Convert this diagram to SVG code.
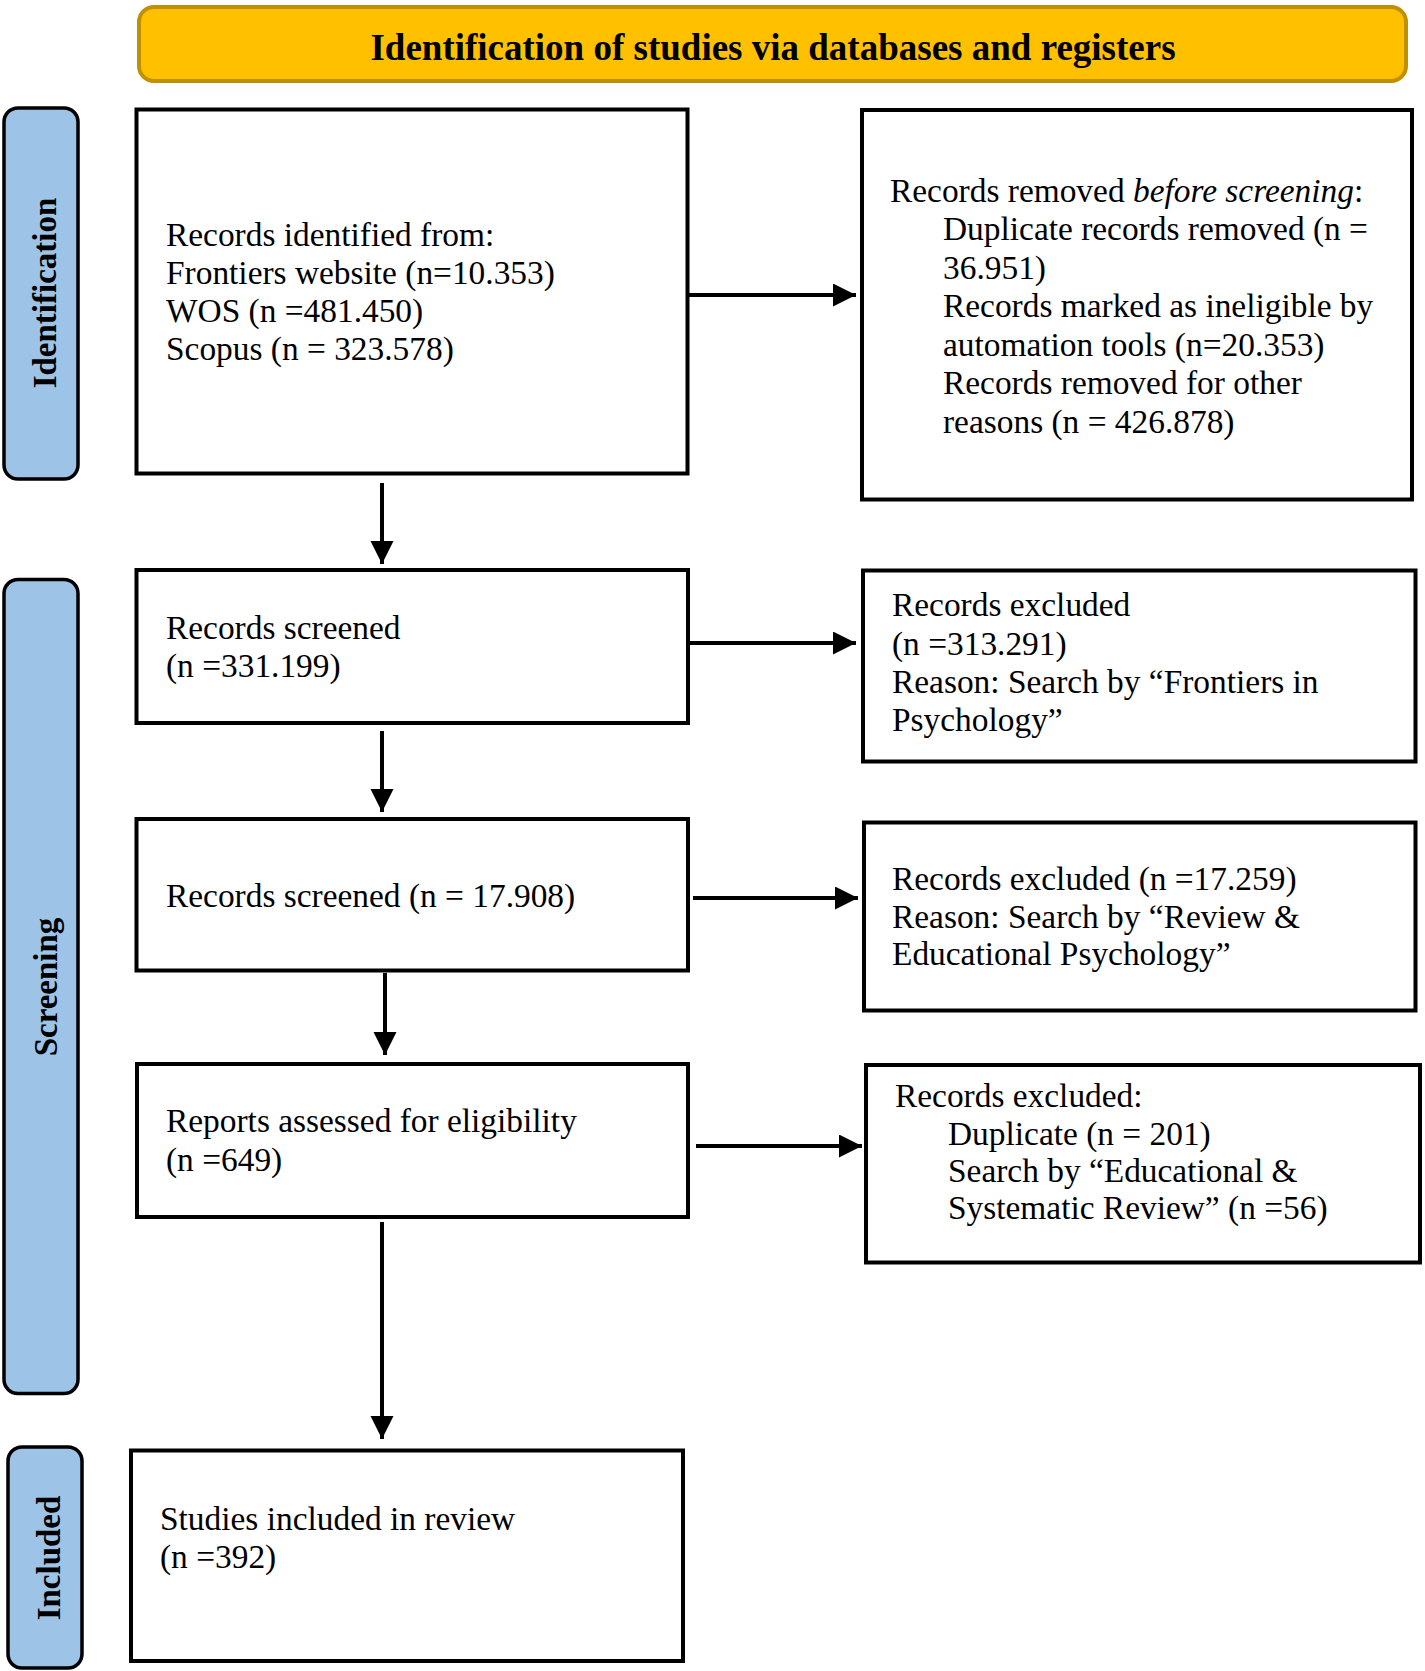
<svg xmlns="http://www.w3.org/2000/svg" width="1425" height="1671" viewBox="0 0 1425 1671">
<style>
.t{font-family:"Liberation Serif","Times New Roman",serif;font-size:33.4px;fill:#000}
.h{font-family:"Liberation Serif","Times New Roman",serif;font-size:37px;font-weight:bold;fill:#000}
.s{font-family:"Liberation Serif","Times New Roman",serif;font-size:33px;font-weight:bold;fill:#000}
.box{fill:#fff;stroke:#000;stroke-width:4}
.side{fill:#9DC3E6;stroke:#000;stroke-width:3.5}
.con{stroke:#000;stroke-width:4;fill:none}
</style>
<defs>
<marker id="ah" markerUnits="userSpaceOnUse" markerWidth="24" markerHeight="24" refX="23" refY="11.5" orient="auto">
<path d="M0,0 L23,11.5 L0,23 Z" fill="#000"/>
</marker>
</defs>
<rect width="1425" height="1671" fill="#fff"/>

<g id="header">
<rect x="139" y="7" width="1267" height="74" rx="15" fill="#FFC000" stroke="#BF9000" stroke-width="4"/>
<text class="h" x="773" y="60" text-anchor="middle">Identification of studies via databases and registers</text>
</g>

<g id="side-identification">
<rect class="side" x="4" y="108" width="74" height="371" rx="14"/>
<text class="s" transform="translate(56,293) rotate(-90)" text-anchor="middle">Identification</text>
</g>
<g id="side-screening">
<rect class="side" x="4" y="579.5" width="74" height="814" rx="14"/>
<text class="s" transform="translate(57,987) rotate(-90)" text-anchor="middle">Screening</text>
</g>
<g id="side-included">
<rect class="side" x="8" y="1447" width="74" height="221" rx="14"/>
<text class="s" transform="translate(60,1558) rotate(-90)" text-anchor="middle">Included</text>
</g>

<g id="n-identified">
<rect class="box" x="136.5" y="109.5" width="551" height="364"/>
<text class="t" x="166" y="246">Records identified from:</text>
<text class="t" x="166" y="284">Frontiers website (n=10.353)</text>
<text class="t" x="166" y="322">WOS (n =481.450)</text>
<text class="t" x="166" y="360">Scopus (n = 323.578)</text>
</g>

<g id="n-removed">
<rect class="box" x="862" y="110" width="550" height="389.5"/>
<text class="t" x="890" y="202">Records removed <tspan font-style="italic">before screening</tspan>:</text>
<text class="t" x="943" y="240">Duplicate records removed (n =</text>
<text class="t" x="943" y="279">36.951)</text>
<text class="t" x="943" y="317">Records marked as ineligible by</text>
<text class="t" x="943" y="356">automation tools (n=20.353)</text>
<text class="t" x="943" y="394">Records removed for other</text>
<text class="t" x="943" y="433">reasons (n = 426.878)</text>
</g>

<g id="n-screened1">
<rect class="box" x="136.5" y="570" width="551.5" height="153"/>
<text class="t" x="166" y="639">Records screened</text>
<text class="t" x="166" y="677">(n =331.199)</text>
</g>

<g id="n-excluded1">
<rect class="box" x="863" y="570.5" width="552.5" height="191"/>
<text class="t" x="892" y="616">Records excluded</text>
<text class="t" x="892" y="655">(n =313.291)</text>
<text class="t" x="892" y="693">Reason: Search by “Frontiers in</text>
<text class="t" x="892" y="731">Psychology”</text>
</g>

<g id="n-screened2">
<rect class="box" x="136.5" y="819" width="551.5" height="151.5"/>
<text class="t" x="166" y="907">Records screened (n = 17.908)</text>
</g>

<g id="n-excluded2">
<rect class="box" x="864" y="822.5" width="551.5" height="188"/>
<text class="t" x="892" y="890">Records excluded (n =17.259)</text>
<text class="t" x="892" y="928">Reason: Search by “Review &amp;</text>
<text class="t" x="892" y="965">Educational Psychology”</text>
</g>

<g id="n-assessed">
<rect class="box" x="137" y="1064" width="551" height="153"/>
<text class="t" x="166" y="1132">Reports assessed for eligibility</text>
<text class="t" x="166" y="1171">(n =649)</text>
</g>

<g id="n-excluded3">
<rect class="box" x="866" y="1065" width="554" height="197.5"/>
<text class="t" x="895" y="1107">Records excluded:</text>
<text class="t" x="948" y="1145">Duplicate (n = 201)</text>
<text class="t" x="948" y="1182">Search by “Educational &amp;</text>
<text class="t" x="948" y="1219">Systematic Review” (n =56)</text>
</g>

<g id="n-included">
<rect class="box" x="131" y="1450.5" width="552" height="210.5"/>
<text class="t" x="160" y="1530">Studies included in review</text>
<text class="t" x="160" y="1568">(n =392)</text>
</g>

<g id="connectors">
<line class="con" x1="688" y1="295" x2="856" y2="295" marker-end="url(#ah)"/>
<line class="con" x1="690" y1="643" x2="856" y2="643" marker-end="url(#ah)"/>
<line class="con" x1="693" y1="898" x2="858" y2="898" marker-end="url(#ah)"/>
<line class="con" x1="696" y1="1146" x2="862" y2="1146" marker-end="url(#ah)"/>
<line class="con" x1="382" y1="483" x2="382" y2="564" marker-end="url(#ah)"/>
<line class="con" x1="382" y1="731" x2="382" y2="812" marker-end="url(#ah)"/>
<line class="con" x1="385" y1="973" x2="385" y2="1055" marker-end="url(#ah)"/>
<line class="con" x1="382" y1="1222" x2="382" y2="1439" marker-end="url(#ah)"/>
</g>
</svg>
